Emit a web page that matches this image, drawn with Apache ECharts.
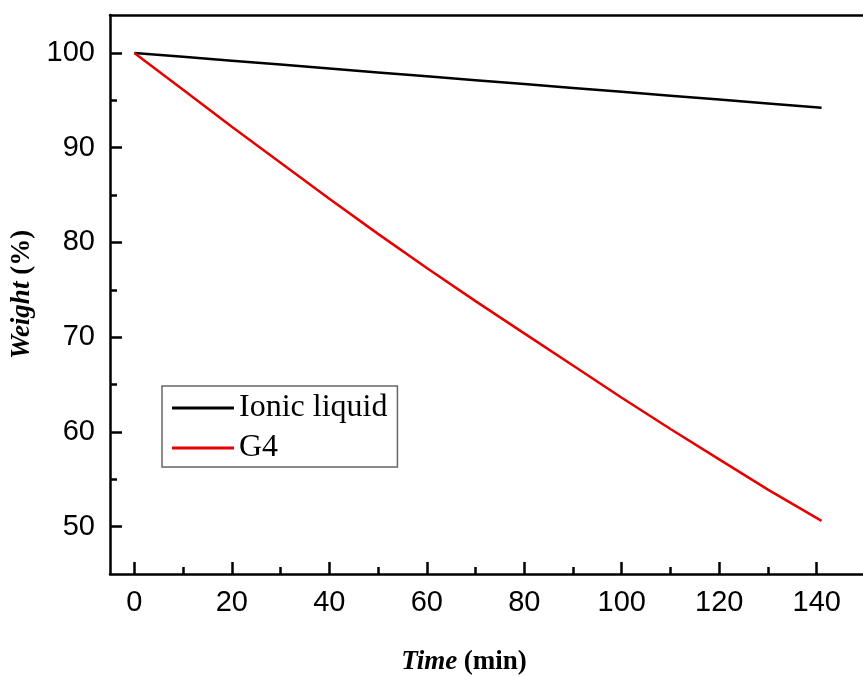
<!DOCTYPE html>
<html>
<head>
<meta charset="utf-8">
<script src="https://cdn.jsdelivr.net/npm/echarts@6/dist/echarts.min.js"></script>
<style>
  html, body { margin: 0; padding: 0; background: #fff; }
  #chart { width: 863px; height: 677px; }
</style>
</head>
<body>
<div id="chart"></div>
<script>
// time (min) sampled along the curves
const timeMin = [0, 10, 20, 30, 40, 50, 60, 70, 80, 90, 100, 110, 120, 130, 141];
// weight (%)
const ionicLiquid = [100, 99.59, 99.18, 98.77, 98.36, 97.94, 97.53, 97.12, 96.71, 96.3, 95.89, 95.48, 95.07, 94.66, 94.2];
const g4 = [100, 96.1, 92.2, 88.4, 84.6, 80.9, 77.3, 73.8, 70.4, 67.0, 63.6, 60.3, 57.1, 53.9, 50.6];

// tick positions
const xMajor = [0, 20, 40, 60, 80, 100, 120, 140];
const xMinor = [10, 30, 50, 70, 90, 110, 130];
const yMajor = [50, 60, 70, 80, 90, 100];
const yMinor = [55, 65, 75, 85, 95];

const chart = echarts.init(document.getElementById("chart"));

const sans = "Liberation Sans";
const serif = "Liberation Serif";

const toPairs = (xs, ys) => xs.map((x, i) => [x, ys[i]]);

const black = "#000";
const axisLine = { show: true, onZero: false, lineStyle: { color: black, width: 2.5 } };
const noLine = { show: false, onZero: false };

const tick = (values, len) => ({
  show: true,
  inside: true,
  length: len,
  customValues: values,
  lineStyle: { color: black, width: 2.5 },
});

// only print the listed values
const onlyThese = (values) => (v) => (values.indexOf(v) >= 0 ? String(v) : "");

const nameStyle = {
  fontFamily: serif,
  fontSize: 27,
  fontWeight: "bold",
  color: black,
  rich: {
    i: { fontFamily: serif, fontSize: 27, fontWeight: "bold", fontStyle: "italic", color: black },
  },
};

const X_MIN = -5, X_MAX = 149.5;
const Y_MIN = 45, Y_MAX = 104;

// a tick-only x axis
const xTicks = (values, len) => ({
  type: "value",
  min: X_MIN,
  max: X_MAX,
  position: "bottom",
  splitLine: { show: false },
  axisLine: noLine,
  axisTick: tick(values, len),
  axisLabel: { show: false },
});

const option = {
  animation: false,
  backgroundColor: "#fff",
  grid: { left: 110, top: 15, right: 0, bottom: 103, outerBoundsMode: "none", containLabel: false },
  legend: {
    orient: "vertical",
    left: 162,
    top: 386,
    padding: [6, 10, 3, 10],
    borderColor: "#666",
    borderWidth: 1.5,
    icon: "rect",
    itemWidth: 62,
    itemHeight: 3,
    itemGap: 8,
    textStyle: { fontFamily: serif, fontSize: 32, color: black },
    data: ["Ionic liquid", "G4"],
  },
  xAxis: [
    {
      type: "value",
      min: X_MIN,
      max: X_MAX,
      interval: 5,
      position: "bottom",
      name: "{i|Time} (min)",
      nameLocation: "middle",
      nameGap: 75,
      nameTextStyle: Object.assign({ padding: [0, 45, 0, 0] }, nameStyle),
      splitLine: { show: false },
      axisLine: axisLine,
      axisTick: { show: false },
      axisLabel: {
        showMaxLabel: false,
        formatter: onlyThese(xMajor),
        fontFamily: sans,
        fontSize: 29,
        color: black,
        margin: 14,
      },
    },
    xTicks(xMajor, 12),
    xTicks(xMinor, 7),
    {
      // top frame
      type: "value",
      min: X_MIN,
      max: X_MAX,
      position: "top",
      splitLine: { show: false },
      axisLine: axisLine,
      axisTick: { show: false },
      axisLabel: { show: false },
    },
  ],
  yAxis: [
    {
      type: "value",
      min: Y_MIN,
      max: Y_MAX,
      position: "left",
      name: "{i|Weight} (%)",
      nameLocation: "middle",
      nameGap: 72,
      nameTextStyle: nameStyle,
      splitLine: { show: false },
      axisLine: axisLine,
      axisTick: tick(yMajor, 12),
      axisLabel: {
        customValues: yMajor,
        formatter: onlyThese(yMajor),
        fontFamily: sans,
        fontSize: 29,
        color: black,
        margin: 15,
      },
    },
    {
      // minor ticks
      type: "value",
      min: Y_MIN,
      max: Y_MAX,
      position: "left",
      splitLine: { show: false },
      axisLine: noLine,
      axisTick: tick(yMinor, 7),
      axisLabel: { show: false },
    },
  ],
  series: [
    {
      name: "Ionic liquid",
      type: "line",
      data: toPairs(timeMin, ionicLiquid),
      showSymbol: false,
      color: black,
      lineStyle: { color: black, width: 2.5 },
    },
    {
      name: "G4",
      type: "line",
      data: toPairs(timeMin, g4),
      showSymbol: false,
      color: "#e60000",
      lineStyle: { color: "#e60000", width: 2.5 },
    },
  ],
};

chart.setOption(option);
</script>
</body>
</html>
